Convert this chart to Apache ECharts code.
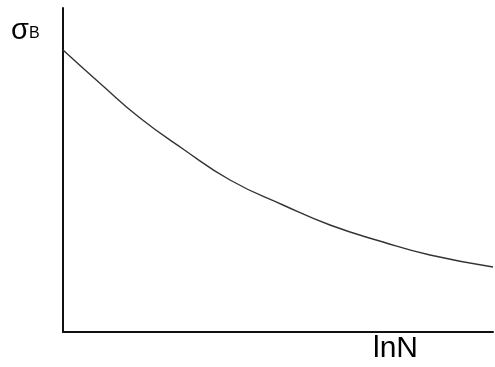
<!DOCTYPE html>
<html><head><meta charset="utf-8">
<script src="https://cdn.jsdelivr.net/npm/echarts@6/dist/echarts.min.js"></script>
<style>html,body{margin:0;padding:0;background:#fff}#c{width:495px;height:367px}</style>
</head><body><div id="c"></div>
<script>
// Curve (x: lnN, y: sigma_B), arbitrary units
const xValues = [0, 40, 77, 120, 167, 220, 267, 320, 367, 430];
const yValues = [282, 246, 214, 183, 152, 127, 107, 90, 77, 65];
const yLabel = 'σ';
const ySub = 'B';
const xLabel = 'lnN';

const chart = echarts.init(document.getElementById('c'));
chart.setOption({
  animation: false,
  grid: {left: 63, right: 2, top: 8, bottom: 35},
  xAxis: {type: 'value', min: 0, max: 430, axisLine: {lineStyle: {color: '#111', width: 2}},
    axisTick: {show: false}, axisLabel: {show: false}, splitLine: {show: false}},
  yAxis: {type: 'value', min: 0, max: 324, axisLine: {show: true, lineStyle: {color: '#111', width: 2}},
    axisTick: {show: false}, axisLabel: {show: false}, splitLine: {show: false}},
  series: [{type: 'line', smooth: 0.5, symbol: 'none',
    data: xValues.map((x, i) => [x, yValues[i]]),
    lineStyle: {color: '#333', width: 1.4}}],
  graphic: [
    {type: 'text', left: 11, top: 16, style: {text: '{a|' + yLabel + '}{b|' + ySub + '}', fill: '#000',
      rich: {a: {fontFamily: 'Liberation Sans', fontSize: 29, fill: '#000'}, b: {fontFamily: 'Liberation Sans', fontSize: 16, fill: '#000', padding: [6, 0, 0, 0]}}}},
    {type: 'text', left: 373, top: 334, style: {text: xLabel, fontFamily: 'Liberation Sans', fontSize: 30, fill: '#000'}}
  ]
});
</script></body></html>
